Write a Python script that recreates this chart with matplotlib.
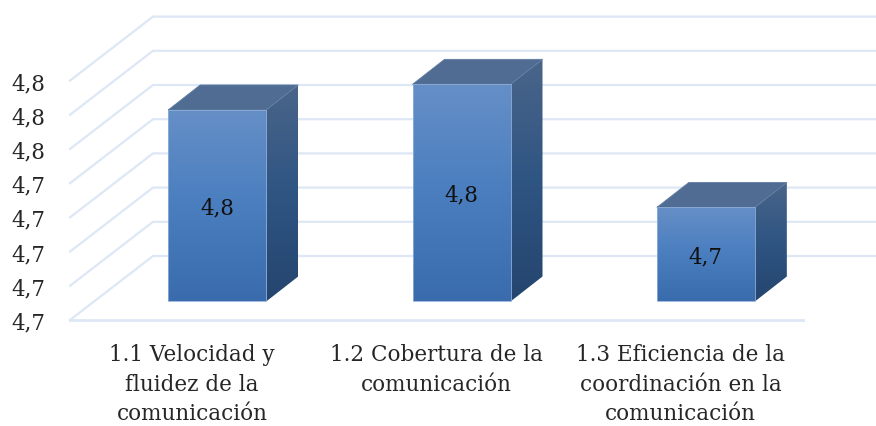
import numpy as np
import matplotlib
matplotlib.use("Agg")
import matplotlib.pyplot as plt
from matplotlib.colors import LinearSegmentedColormap
from matplotlib.patches import Polygon

CATEGORIES = [
    "1.1 Velocidad y\nfluidez de la\ncomunicación",
    "1.2 Cobertura de la\ncomunicación",
    "1.3 Eficiencia de la\ncoordinación en la\ncomunicación",
]
VALUES = [4.772, 4.787, 4.715]
VALUE_LABELS = ["4,8", "4,8", "4,7"]
TICKS = [4.66, 4.68, 4.70, 4.72, 4.74, 4.76, 4.78, 4.80]
TICK_LABELS = ["4,7", "4,7", "4,7", "4,7", "4,7", "4,8", "4,8", "4,8"]

W, H = 876, 427
LEFT, RIGHT, FLOOR, TOP = 70, 803, 321, 81.6
FONT = "DejaVu Serif"
FONT_SIZE = 15.5
GRID = "#dde7f5"

fig = plt.figure(figsize=(W / 100, H / 100), dpi=100)
ax = fig.add_axes([LEFT / W, 1 - FLOOR / H, (RIGHT - LEFT) / W, (FLOOR - TOP) / H])
ax.set_xlim(-0.5, 2.5)
ax.set_ylim(TICKS[0], TICKS[-1])

# pixel sizes converted to data units
px_x = 3 / (RIGHT - LEFT)
px_y = (TICKS[-1] - TICKS[0]) / (FLOOR - TOP)

# wall and floor lines
wall_dx, wall_dy = 83 * px_x, 64 * px_y
for t in TICKS:
    ax.plot([-0.5, -0.5 + wall_dx, 2.5 + wall_dx], [t, t + wall_dy, t + wall_dy],
            color=GRID, lw=1.6, clip_on=False, zorder=1)
ax.plot([-0.5, 2.5], [TICKS[0], TICKS[0]], color=GRID, lw=2.0, clip_on=False, zorder=1)

front_cm = LinearSegmentedColormap.from_list("front", ["#668fc7", "#4a7ebf", "#3a6cad"])
side_cm = LinearSegmentedColormap.from_list("side", ["#4a6589", "#2f5583", "#24456e"])

bar_w = 98 * px_x
shift_x, shift_y = 25 * px_x, 18.5 * px_y
depth_x, depth_y = 32 * px_x, 25 * px_y
grad = np.linspace(0, 1, 256).reshape(-1, 1)

for i, v in enumerate(VALUES):
    x0 = i - bar_w / 2 + shift_x
    x1 = x0 + bar_w
    y0 = TICKS[0] + shift_y
    y1 = v + shift_y

    # front face
    ax.imshow(grad, cmap=front_cm, aspect="auto", origin="upper",
              extent=[x0, x1, y0, y1], zorder=3, clip_on=False)
    ax.add_patch(Polygon([(x0, y0), (x1, y0), (x1, y1), (x0, y1)], closed=True,
                         fill=False, ec="#8fb0da", lw=0.6, clip_on=False, zorder=4))

    # side face
    side = Polygon([(x1, y0), (x1 + depth_x, y0 + depth_y), (x1 + depth_x, y1 + depth_y), (x1, y1)],
                   closed=True, fc="none", ec="none", clip_on=False, zorder=3)
    ax.add_patch(side)
    im = ax.imshow(grad, cmap=side_cm, aspect="auto", origin="upper",
                   extent=[x1, x1 + depth_x, y0, y1 + depth_y], zorder=3)
    im.set_clip_box(fig.bbox)
    im.set_clip_path(side)

    # top face
    ax.add_patch(Polygon([(x0, y1), (x1, y1), (x1 + depth_x, y1 + depth_y), (x0 + depth_x, y1 + depth_y)],
                         closed=True, fc="#516c93", ec="#5f7ca3", lw=0.6, clip_on=False, zorder=3))

    ax.text((x0 + x1) / 2, (y0 + y1) / 2 - 2 * px_y, VALUE_LABELS[i], ha="center", va="center",
            family=FONT, fontsize=FONT_SIZE, color="#111111", zorder=5)

ax.set_xlim(-0.5, 2.5)
ax.set_ylim(TICKS[0], TICKS[-1])

for s in ax.spines.values():
    s.set_visible(False)
ax.patch.set_alpha(0)

ax.set_yticks(TICKS)
ax.set_yticklabels(TICK_LABELS, family=FONT, fontsize=FONT_SIZE, color="#262626")
ax.set_xticks(range(3))
ax.set_xticklabels(CATEGORIES, family=FONT, fontsize=FONT_SIZE, color="#262626", linespacing=1.45)
ax.tick_params(axis="y", length=0, pad=18)
ax.tick_params(axis="x", length=0, pad=16.5)

fig.savefig("out.png", dpi=100)
